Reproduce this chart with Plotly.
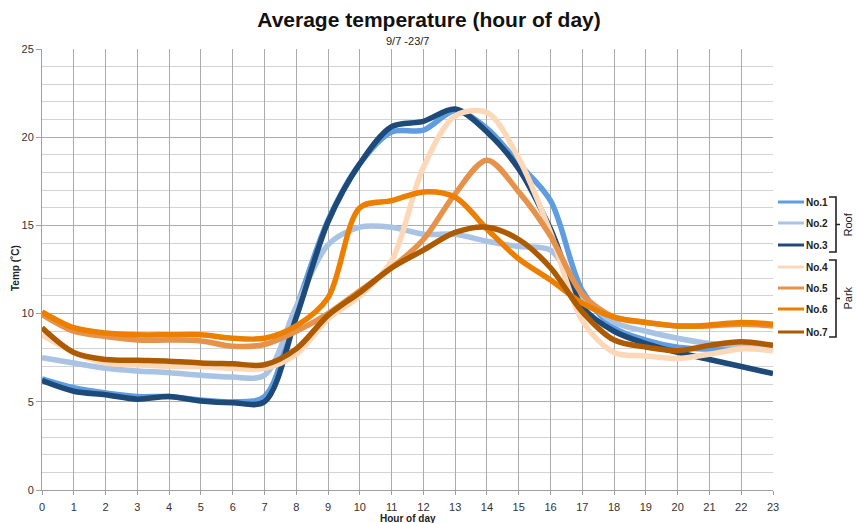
import plotly.graph_objects as go

hours = list(range(24))
series_names = ["No.1", "No.2", "No.3", "No.4", "No.5", "No.6", "No.7"]
no1 = [6.3, 5.8, 5.5, 5.3, 5.3, 5.1, 5.0, 5.3, 10.3, 15.3, 18.5, 20.3, 20.4, 21.5, 20.5, 18.5, 16.4, 11.3, 9.2, 8.5, 8.1, 8.0, 8.2, 8.1]
no2 = [7.5, 7.2, 6.9, 6.75, 6.65, 6.5, 6.4, 6.5, 10.4, 13.9, 14.9, 14.9, 14.5, 14.5, 14.1, 13.8, 13.6, 11.0, 9.5, 9.0, 8.6, 8.3, 8.2, 8.1]
no3 = [6.2, 5.6, 5.4, 5.15, 5.3, 5.05, 4.95, 5.0, 9.8, 15.2, 18.5, 20.6, 20.9, 21.6, 20.3, 18.2, 14.8, 10.4, 9.0, 8.3, 7.8, 7.4, 7.0, 6.6]
no4 = [8.8, 7.8, 7.2, 7.1, 7.0, 7.0, 6.9, 6.9, 7.7, 9.7, 11.0, 13.0, 18.3, 21.2, 21.4, 18.8, 14.6, 9.6, 7.8, 7.6, 7.45, 7.7, 8.0, 7.9]
no5 = [9.95, 9.0, 8.7, 8.5, 8.5, 8.45, 8.15, 8.25, 9.0, 10.0, 11.3, 12.6, 14.2, 16.8, 18.7, 16.9, 14.4, 11.1, 9.8, 9.5, 9.3, 9.3, 9.4, 9.3]
no6 = [10.1, 9.2, 8.9, 8.8, 8.8, 8.8, 8.6, 8.6, 9.3, 10.9, 16.0, 16.4, 16.9, 16.6, 14.8, 13.1, 11.9, 10.6, 9.8, 9.5, 9.3, 9.35, 9.5, 9.4]
no7 = [9.2, 7.8, 7.4, 7.35, 7.3, 7.2, 7.15, 7.1, 8.0, 9.9, 11.2, 12.6, 13.6, 14.6, 14.9, 14.2, 12.6, 10.1, 8.5, 8.1, 7.9, 8.2, 8.4, 8.2]
all_series = [no1, no2, no3, no4, no5, no6, no7]
colors = ["#5f9de0", "#a8c3e4", "#1d4a78", "#fdd8b8", "#e6924a", "#ec7f00", "#ad5a00"]
groups = [("Roof", 0, 2), ("Park", 3, 6)]

FONT = "Liberation Sans, Arial, sans-serif"
W, H = 856, 523
L, R, T, B = 42, 773, 49, 490  # plot area in window pixels

def px(x):
    return (x - L) / (R - L)

def py(y):
    return (B - y) / (B - T)

fig = go.Figure()
for name, vals, col in zip(series_names, all_series, colors):
    fig.add_trace(go.Scatter(x=hours, y=vals, name=name, mode="lines",
                             line=dict(color=col, width=5.5, shape="spline", smoothing=0.9),
                             showlegend=False, hoverinfo="skip"))

# custom legend
shapes = []
annotations = []
leg_y = [202, 223, 245, 267, 288, 309, 332]
for i, (name, col) in enumerate(zip(series_names, colors)):
    yy = py(leg_y[i])
    shapes.append(dict(type="line", xref="paper", yref="paper", x0=px(778), x1=px(804),
                       y0=yy, y1=yy, line=dict(color=col, width=3)))
    annotations.append(dict(xref="paper", yref="paper", x=px(804), y=yy, text="<b>" + name + "</b>",
                            showarrow=False, xanchor="left", yanchor="middle",
                            font=dict(family=FONT, size=10, color="#222")))

bracket_spans = [(197, 252), (260, 337)]
for (label, a, b), (y0, y1) in zip(groups, bracket_spans):
    ym = (y0 + y1) / 2
    path = "M {a},{b} L {c},{b} L {c},{d} L {e},{d} L {c},{d} L {c},{f} L {a},{f}".format(
        a=px(829), b=py(y0), c=px(836), d=py(ym), e=px(840), f=py(y1))
    shapes.append(dict(type="path", xref="paper", yref="paper", path=path,
                       line=dict(color="#222", width=1.6)))
    annotations.append(dict(xref="paper", yref="paper", x=px(847), y=py(ym), text=label,
                            showarrow=False, textangle=-90, xanchor="center", yanchor="middle",
                            font=dict(family=FONT, size=11, color="#222")))

annotations.append(dict(xref="paper", yref="paper", x=0.5, y=py(41), text="9/7 -23/7",
                        showarrow=False, xanchor="center", yanchor="middle",
                        font=dict(family=FONT, size=11, color="#222")))
# axis titles
annotations.append(dict(xref="paper", yref="paper", x=px(15), y=py(268), text="<b>Temp (˚C)</b>",
                        showarrow=False, textangle=-90, xanchor="center", yanchor="middle",
                        font=dict(family=FONT, size=10, color="#222")))
annotations.append(dict(xref="paper", yref="paper", x=px(408), y=py(518), text="<b>Hour of day</b>",
                        showarrow=False, xanchor="center", yanchor="middle",
                        font=dict(family=FONT, size=10, color="#222")))

fig.update_layout(
    width=W, height=H,
    margin=dict(l=L, r=W - R, t=T, b=H - B, autoexpand=False),
    paper_bgcolor="white", plot_bgcolor="white",
    title=dict(text="<b>Average temperature (hour of day)</b>", x=px(429), xref="paper",
               xanchor="center", y=1 - 20 / H, yanchor="middle",
               font=dict(family=FONT, size=21, color="#111")),
    font=dict(family=FONT, size=11, color="#333"),
    shapes=shapes, annotations=annotations,
    xaxis=dict(range=[0, 23], tickmode="linear", tick0=0, dtick=1, showgrid=True,
               gridcolor="#ababab", gridwidth=1, showline=True, linecolor="#a0a0a0",
               ticks="outside", ticklen=4, tickcolor="#a0a0a0", zeroline=False,
               ticklabelstandoff=3,
               tickfont=dict(family=FONT, size=11, color="#333")),
    yaxis=dict(range=[0, 25], tickmode="linear", tick0=0, dtick=5, showgrid=True,
               gridcolor="#ababab", gridwidth=1, showline=True, linecolor="#a0a0a0",
               ticks="outside", ticklen=5, tickcolor="#a0a0a0", zeroline=False,
               minor=dict(dtick=1, showgrid=True, gridcolor="#d3d3d3", gridwidth=1),
               tickfont=dict(family=FONT, size=11, color="#333")),
)

fig.write_html("out.html", config={"displayModeBar": False, "staticPlot": True},
               post_script="document.body.style.margin='0';document.body.style.overflow='hidden';")
